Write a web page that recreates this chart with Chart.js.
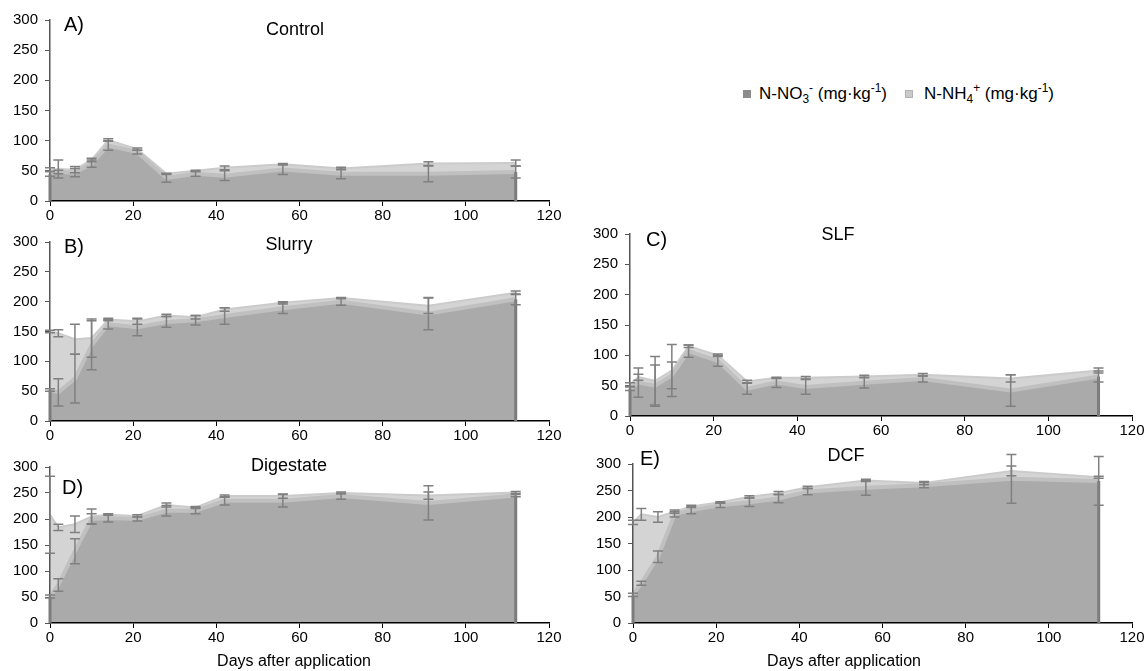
<!DOCTYPE html>
<html>
<head>
<meta charset="utf-8">
<title>Soil mineral N</title>
<script src="https://cdn.jsdelivr.net/npm/chart.js@4.4.1/dist/chart.umd.min.js"></script>
<style>
  body { margin: 0; background: #fff; width: 1148px; height: 671px; position: relative; overflow: hidden;
         font-family: "Liberation Sans", Arial, sans-serif; color: #000; }
  canvas { position: absolute; }
  .t { position: absolute; white-space: nowrap; line-height: 1; }
  .sq { position: absolute; width: 8px; height: 8px; box-sizing: border-box; }
  sub, sup { font-size: 0.7em; line-height: 0; }
</style>
</head>
<body>

<canvas id="control"></canvas>
<canvas id="slurry"></canvas>
<canvas id="digestate"></canvas>
<canvas id="slf"></canvas>
<canvas id="dcf"></canvas>

<div class="t" style="left:64px;top:14px;font-size:20px">A)</div>
<div class="t" style="left:295px;top:20px;font-size:18px;transform:translateX(-50%)">Control</div>
<div class="t" style="left:64px;top:236px;font-size:20px">B)</div>
<div class="t" style="left:289px;top:235px;font-size:18px;transform:translateX(-50%)">Slurry</div>
<div class="t" style="left:62px;top:477px;font-size:20px">D)</div>
<div class="t" style="left:289px;top:456px;font-size:18px;transform:translateX(-50%)">Digestate</div>
<div class="t" style="left:646px;top:229px;font-size:20px">C)</div>
<div class="t" style="left:838px;top:225px;font-size:18px;transform:translateX(-50%)">SLF</div>
<div class="t" style="left:640px;top:448px;font-size:20px">E)</div>
<div class="t" style="left:846px;top:446px;font-size:18px;transform:translateX(-50%)">DCF</div>
<div class="t" style="left:294px;top:653px;font-size:16px;transform:translateX(-50%)">Days after application</div>
<div class="t" style="left:844px;top:653px;font-size:16px;transform:translateX(-50%)">Days after application</div>

<div class="sq" style="left:743px;top:90px;background:#8c8c8c"></div>
<div class="t" style="left:759px;top:85px;font-size:17px">N-NO<sub>3</sub><sup>-</sup> (mg·kg<sup>-1</sup>)</div>
<div class="sq" style="left:905px;top:90px;background:#cacaca;border:1px solid #b2b2b2"></div>
<div class="t" style="left:924px;top:85px;font-size:17px">N-NH<sub>4</sub><sup>+</sup> (mg·kg<sup>-1</sup>)</div>

<script>
// sampling days
const days = [0, 2, 6, 10, 14, 21, 28, 35, 42, 56, 70, 91, 112];

// A) Control
const controlNO3 = [45, 48, 47, 62, 92, 81, 38, 45, 42, 52, 45, 45, 48];
const controlNH4 = [7, 5, 5, 6, 9, 5, 7, 5, 13, 9, 9, 17, 15];
const controlNO3Err = [4, 3, 7, 6, 8, 3, 7, 4, 8, 8, 8, 13, 10];
const controlNH4Err = [3, 15, 5, 3, 2, 2, 1, 1, 3, 1, 2, 3, 5];

// B) Slurry
const slurryNO3 = [52, 48, 71, 127, 162, 157, 166, 169, 176, 189, 200, 180, 204];
const slurryNH4 = [98, 99, 66, 12, 8, 10, 11, 5, 11, 9, 6, 13, 11];
const slurryNO3Err = [2, 23, 41, 41, 8, 14, 9, 8, 14, 9, 6, 27, 9];
const slurryNH4Err = [2, 6, 25, 32, 2, 5, 2, 3, 3, 2, 1, 13, 3];

// C) SLF
const slfNO3 = [45, 55, 50, 67, 107, 91, 45, 55, 48, 55, 61, 42, 65];
const slfNH4 = [7, 9, 8, 8, 8, 9, 12, 8, 15, 10, 7, 20, 10];
const slfNO3Err = [3, 24, 34, 22, 10, 9, 9, 8, 12, 9, 5, 26, 9];
const slfNH4Err = [3, 5, 40, 43, 2, 2, 2, 1, 2, 2, 2, 6, 4];

// D) Digestate
const digestateNO3 = [51, 73, 138, 200, 202, 200, 216, 216, 235, 235, 244, 231, 245];
const digestateNH4 = [157, 111, 52, 5, 6, 6, 11, 6, 9, 9, 6, 14, 6];
const digestateNO3Err = [3, 12, 24, 10, 8, 4, 10, 6, 8, 12, 6, 33, 2];
const digestateNH4Err = [74, 6, 16, 14, 1, 2, 4, 2, 2, 4, 2, 7, 2];

// E) DCF
const dcfNO3 = [53, 75, 125, 205, 213, 222, 228, 235, 248, 255, 260, 272, 268];
const dcfNH4 = [137, 130, 75, 5, 7, 6, 10, 10, 8, 14, 4, 15, 7];
const dcfNO3Err = [3, 4, 11, 5, 7, 4, 8, 8, 6, 14, 5, 46, 46];
const dcfNH4Err = [4, 11, 10, 3, 2, 1, 2, 3, 2, 2, 3, 9, 2];

const xTicks = [0, 20, 40, 60, 80, 100, 120];
const yTicks = [0, 50, 100, 150, 200, 250, 300];

const FONT = '"Liberation Sans", Arial, sans-serif';

// draws a stacked area panel with error bars at each stack top
function makePanel(id, area, no3, nh4, no3Err, nh4Err) {
    const canvas = document.getElementById(id);
    const padL = 55, padT = 12, padR = 25, padB = 32;
    canvas.width = area.right - area.left + padL + padR;
    canvas.height = area.bottom - area.top + padT + padB;
    canvas.style.left = (area.left - padL) + 'px';
    canvas.style.top = (area.top - padT) + 'px';

    const totals = no3.map((v, i) => v + nh4[i]);

    const errorBars = {
        id: 'errorBars',
        afterDraw(chart) {
            const { ctx, scales: { x, y } } = chart;
            ctx.save();
            // dark edges of the nitrate area at first and last sample
            ctx.strokeStyle = '#7c7c7c';
            ctx.lineWidth = 3;
            [0, days.length - 1].forEach(i => {
                const px = x.getPixelForValue(days[i]);
                ctx.beginPath();
                ctx.moveTo(px, y.getPixelForValue(0));
                ctx.lineTo(px, y.getPixelForValue(no3[i]));
                ctx.stroke();
            });
            ctx.strokeStyle = '#808080';
            ctx.lineWidth = 1.5;
            const bar = (px, val, err) => {
                const top = y.getPixelForValue(val + err);
                const bot = y.getPixelForValue(Math.max(0, val - err));
                ctx.beginPath();
                ctx.moveTo(px, top); ctx.lineTo(px, bot);
                ctx.moveTo(px - 5, top); ctx.lineTo(px + 5, top);
                ctx.moveTo(px - 5, bot); ctx.lineTo(px + 5, bot);
                ctx.stroke();
            };
            days.forEach((d, i) => {
                const px = x.getPixelForValue(d);
                bar(px, no3[i], no3Err[i]);
                bar(px, totals[i], nh4Err[i]);
            });
            ctx.restore();
        }
    };

    return new Chart(canvas, {
        type: 'line',
        data: {
            datasets: [
                {
                    label: 'N-NO3',
                    data: days.map((d, i) => ({ x: d, y: no3[i] })),
                    fill: 'origin',
                    backgroundColor: '#aaaaaa',
                    borderColor: '#c0c0c0',
                    borderWidth: 4,
                    pointRadius: 0,
                    tension: 0
                },
                {
                    label: 'N-NH4',
                    data: days.map((d, i) => ({ x: d, y: totals[i] })),
                    fill: '-1',
                    backgroundColor: '#d4d4d4',
                    borderColor: '#cbcbcb',
                    borderWidth: 2,
                    pointRadius: 0,
                    tension: 0
                }
            ]
        },
        options: {
            responsive: false,
            animation: false,
            devicePixelRatio: 1,
            layout: { padding: { top: padT, right: padR, left: 0, bottom: 0 } },
            plugins: { legend: { display: false }, tooltip: { enabled: false } },
            scales: {
                x: {
                    type: 'linear', min: 0, max: 120, z: 1,
                    afterBuildTicks: s => { s.ticks = xTicks.map(v => ({ value: v })); },
                    ticks: { padding: 1, color: '#000', font: { size: 15, family: FONT } },
                    grid: { drawOnChartArea: false, tickLength: 5, color: '#000', z: 1 },
                    border: { color: '#000', width: 1.5, z: 2 },
                    afterFit: s => { s.height = padB; }
                },
                y: {
                    min: 0, max: 300, z: 1,
                    afterBuildTicks: s => { s.ticks = yTicks.map(v => ({ value: v })); },
                    ticks: { padding: 7, color: '#000', font: { size: 15, family: FONT } },
                    grid: { drawOnChartArea: false, tickLength: 5, color: '#555', z: 1 },
                    border: { color: '#555', width: 1.5, z: 2 },
                    afterFit: s => { s.width = padL; }
                }
            }
        },
        plugins: [errorBars]
    });
}

makePanel('control',   { left: 50,  right: 549,  top: 16,  bottom: 201 }, controlNO3, controlNH4, controlNO3Err, controlNH4Err);
makePanel('slurry',    { left: 50,  right: 549,  top: 238, bottom: 421 }, slurryNO3, slurryNH4, slurryNO3Err, slurryNH4Err);
makePanel('digestate', { left: 50,  right: 549,  top: 463, bottom: 623 }, digestateNO3, digestateNH4, digestateNO3Err, digestateNH4Err);
makePanel('slf',       { left: 630, right: 1132, top: 230, bottom: 416 }, slfNO3, slfNH4, slfNO3Err, slfNH4Err);
makePanel('dcf',       { left: 633, right: 1132, top: 460, bottom: 623 }, dcfNO3, dcfNH4, dcfNO3Err, dcfNH4Err);
</script>
</body>
</html>
